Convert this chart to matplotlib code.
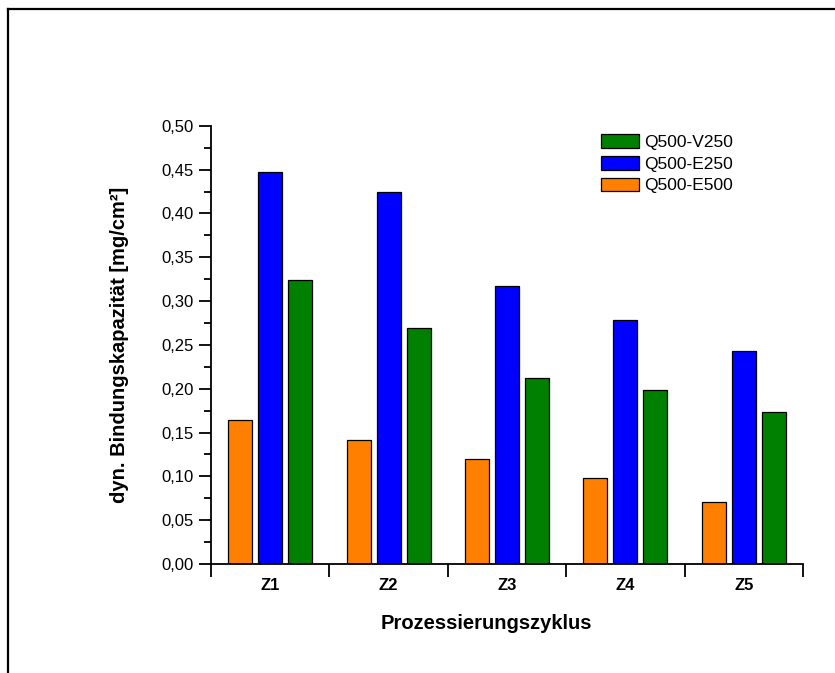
import matplotlib
matplotlib.use("Agg")
import matplotlib.pyplot as plt
import numpy as np
from matplotlib.lines import Line2D
from matplotlib.ticker import MultipleLocator, FixedLocator, NullFormatter

plt.rcParams["font.family"] = ["Liberation Sans", "DejaVu Sans"]

cycles = ["Z1", "Z2", "Z3", "Z4", "Z5"]
q500_e500 = [0.164, 0.142, 0.120, 0.098, 0.071]
q500_e250 = [0.447, 0.424, 0.317, 0.279, 0.243]
q500_v250 = [0.324, 0.269, 0.212, 0.198, 0.173]

series = [
    ("Q500-E500", q500_e500, "#FF8000"),
    ("Q500-E250", q500_e250, "#0000FF"),
    ("Q500-V250", q500_v250, "#008000"),
]

fig = plt.figure(figsize=(8.35, 6.73), dpi=100)
ax = fig.add_axes([0.2527, 0.162, 0.709, 0.651])

x = np.arange(1, len(cycles) + 1)
offsets = [-0.253, 0.0, 0.253]
handles = []
for (label, vals, color), off in zip(series, offsets):
    h = ax.bar(x + off, vals, width=0.203, color=color, edgecolor="black",
               linewidth=0.9, label=label)
    handles.append(h)

ax.set_xlim(0.5, 5.5)
ax.set_ylim(0, 0.5)

# major x ticks at group borders, labels on minor ticks at centres
ax.xaxis.set_major_locator(FixedLocator(np.arange(0.5, 5.6, 1.0)))
ax.xaxis.set_major_formatter(NullFormatter())
ax.xaxis.set_minor_locator(FixedLocator(x))
ax.set_xticklabels(cycles, minor=True, fontsize=12, fontweight="bold")
ax.tick_params(axis="x", which="major", direction="out", length=9, width=1.3)
ax.tick_params(axis="x", which="minor", length=0, pad=10)

ax.yaxis.set_major_locator(MultipleLocator(0.05))
ax.yaxis.set_minor_locator(MultipleLocator(0.025))
ax.yaxis.set_major_formatter(plt.FuncFormatter(lambda v, p: f"{v:.2f}".replace(".", ",")))
ax.tick_params(axis="y", which="major", direction="out", length=9, width=1.3,
               labelsize=12)
ax.tick_params(axis="y", which="minor", direction="out", length=5, width=1.3)

for side in ("top", "right"):
    ax.spines[side].set_visible(False)
for side in ("left", "bottom"):
    ax.spines[side].set_linewidth(1.3)

ax.set_xlabel("Prozessierungszyklus", fontsize=14.5, fontweight="bold", labelpad=14)
ax.xaxis.set_label_coords(0.4645, -0.115)
ax.set_ylabel("dyn. Bindungskapazität [mg/cm²]", fontsize=14.5, fontweight="bold",
              labelpad=23)

ax.legend(handles[::-1], [s[0] for s in series][::-1], loc="upper left",
          bbox_to_anchor=(0.659, 0.981), frameon=False, fontsize=12.5,
          handlelength=2.2, handleheight=0.85, handletextpad=0.3,
          labelspacing=0.33, borderpad=0, borderaxespad=0)

# outer frame (top and left edges visible)
fig.add_artist(Line2D([0.0096, 1.0], [0.987, 0.987], color="black", lw=1.6,
                      transform=fig.transFigure))
fig.add_artist(Line2D([0.0096, 0.0096], [0.0, 0.987], color="black", lw=1.6,
                      transform=fig.transFigure))

fig.savefig("out.png", dpi=100)
